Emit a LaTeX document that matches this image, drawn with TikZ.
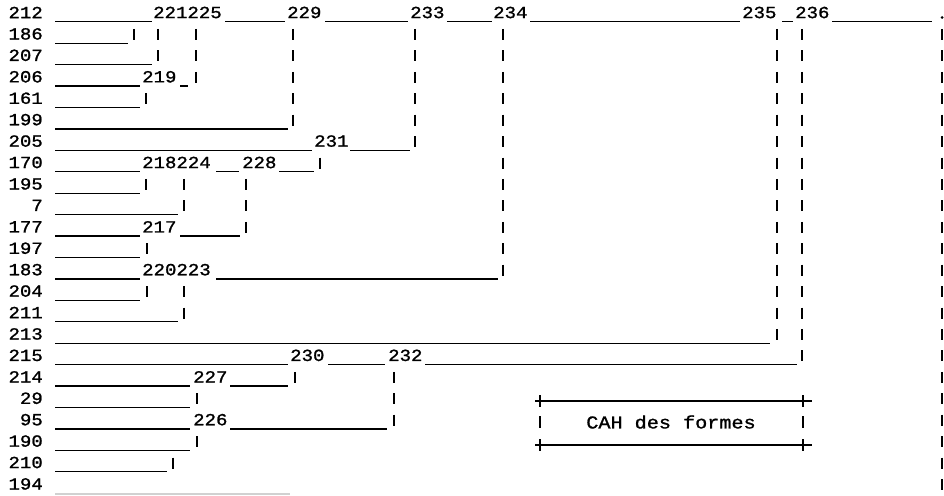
\documentclass[tikz,border=0pt]{standalone}
\usepackage{fontspec}
\newfontfamily\monofnt[FakeStretch=1.12,FakeBold=1.2]{Liberation Mono}
\begin{document}
\begin{tikzpicture}[x=1pt,y=-1pt,
  declare function={ry(\r)=12.5+21.43*\r;},
  hl/.style={line width=1.3pt},
  vp/.style={line width=1.4pt},
  lbl/.style={font=\monofnt\fontsize{17}{17}\selectfont, inner sep=0pt, anchor=west},
  rowlbl/.style={lbl, anchor=east},
  capline/.style={line width=2.6pt},
  captick/.style={line width=1.4pt}]
\useasboundingbox[fill=white] (0,0) rectangle (944,495);

% row labels
\foreach \r/\t in {0/212,1/186,2/207,3/206,4/161,5/199,6/205,7/170,8/195,9/7,10/177,11/197,
  12/183,13/204,14/211,15/213,16/215,17/214,18/29,19/95,20/190,21/210,22/194}
  \node[rowlbl] (row\r) at (43,{ry(\r)}) {\t};

% merge labels
\foreach \r/\x/\t [count=\i] in {0/153/221225,0/287/229,0/410/233,0/493/234,0/742/235,0/795/236,
  3/142/219,6/314/231,7/142/218224,7/242/228,10/142/217,12/142/220223,
  16/290/230,16/388/232,17/193/227,19/193/226}
  \node[lbl] (m\i) at (\x,{ry(\r)}) {\t};

% horizontal strokes
\foreach \r/\a/\b in {0/55/152,0/225/285,0/325/408,0/447/492,0/530/740,0/782/793,0/832/932,
  1/55/128,2/55/152,3/55/140,3/180/188,4/55/140,5/55/288,6/55/312,6/350/410,
  7/55/140,7/216/239,7/279/314,8/55/140,9/55/178,10/55/140,10/180/240,11/55/140,
  12/55/140,12/216/498,13/55/140,14/55/178,15/55/770,16/55/288,16/328/385,16/425/797,
  17/55/190,17/230/288,18/55/190,19/55/190,19/230/387,20/55/190,21/55/167}
  \draw[hl] (\a,{ry(\r)+9.3}) -- (\b,{ry(\r)+9.3});
\draw[hl,black!18] (55,494) -- (290,494);

% final dot
\fill (942,{ry(0)+5}) circle (1.5);

% vertical strokes
\foreach \x/\f/\l in {134/1/1,158/1/2,196/1/3,146/4/4,293/1/5,415/1/6,503/1/12,320/7/7,
  146/8/8,184/8/9,246/8/10,147/11/11,147/13/13,184/13/14,777/1/15,802/1/16,942/1/22,
  295/17/17,197/18/18,394/17/19,197/20/20,173/21/21}
  \foreach \r in {\f,...,\l}
    \draw[vp] (\x,{ry(\r)-5}) -- (\x,{ry(\r)+6});

% caption box
\draw[capline] (535,401) -- (812,401);
\draw[capline] (535,445) -- (812,445);
\foreach \x in {540,803}{
  \draw[captick] (\x,395) -- (\x,407);
  \draw[captick] (\x,439) -- (\x,451);
  \draw[vp] (\x,416) -- (\x,428);
}
\node[lbl, anchor=center, font=\monofnt\fontsize{18}{18}\selectfont] (cap) at (671,422) {CAH des formes};
\end{tikzpicture}
\end{document}
